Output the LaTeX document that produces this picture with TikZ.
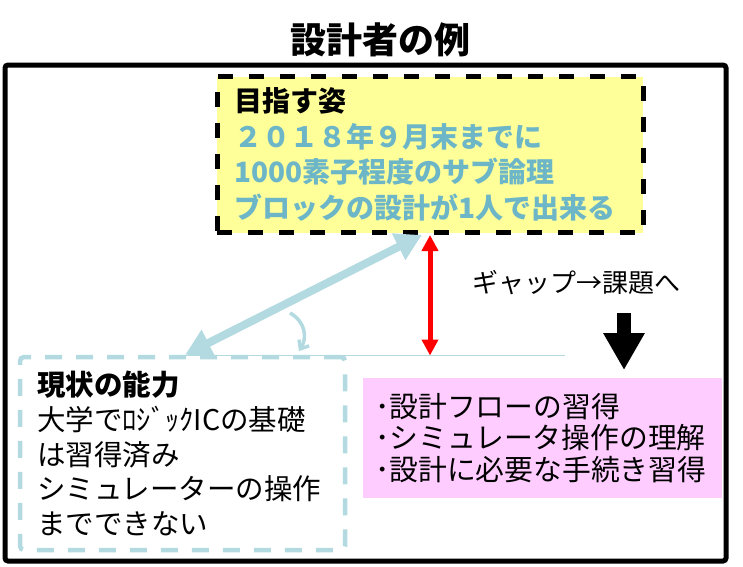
\documentclass[tikz,border=0pt]{standalone}
\usepackage{fontspec}
\newfontfamily\jp{Noto Sans CJK JP}
\usetikzlibrary{arrows.meta,calc}
\definecolor{goalyellow}{RGB}{255,255,153}
\definecolor{goalblue}{RGB}{108,182,200}
\definecolor{paleblue}{RGB}{178,218,224}
\definecolor{pinkfill}{RGB}{255,204,255}
\tikzset{
  frameline/.style={draw=black, line width=5pt, rounded corners=3pt},
  goalbox/.style={draw=black, fill=goalyellow, line width=5pt, dash pattern=on 15pt off 16pt,
    minimum width=426pt, minimum height=156pt, text width=392pt, inner xsep=17pt, align=left,
    font=\jp\fontsize{28}{35.4}\selectfont},
  nowbox/.style={draw=paleblue, line width=4.5pt, dash pattern=on 17pt off 14pt, rounded corners=4pt,
    minimum width=325pt, minimum height=193pt, text width=291pt, inner xsep=17pt, align=left,
    font=\jp\fontsize{28.5}{34.7}\selectfont},
  taskbox/.style={fill=pinkfill, minimum width=359pt, minimum height=120pt, text width=335pt,
    inner xsep=12pt, align=left, font=\jp\fontsize{28.8}{31.5}\selectfont},
  gaptext/.style={font=\jp\fontsize{26}{30}\selectfont},
  titletext/.style={font=\jp\bfseries\fontsize{36}{42}\selectfont},
  bluearrow/.style={draw=paleblue, line width=8pt, {Triangle[length=26pt,width=28pt]}-{Triangle[length=26pt,width=28pt]}},
  redarrow/.style={draw=red, line width=5pt, {Triangle[length=16pt,width=16pt]}-{Triangle[length=16pt,width=16pt]}},
  downarrow/.style={draw=black, line width=14pt, -{Triangle[length=37pt,width=39pt]}},
  anglearc/.style={draw=paleblue, line width=3.5pt, -{Straight Barb[length=7pt,width=12pt]}},
  gapline/.style={draw=paleblue, line width=1pt}
}
\begin{document}
\begin{tikzpicture}[x=1pt,y=-1pt]
\useasboundingbox (0,0) rectangle (743,566);
% outer frame
\node[frameline, minimum width=721pt, minimum height=496pt] (frame) at (365.5,313) {};
% title
\node[titletext] (title) at (380,40) {設計者の例};
% thin base line
\coordinate (lineL) at (185,355.5);
\coordinate (lineR) at (565,355.5);
\draw[gapline] (lineL) -- (lineR);
% current ability box
\node[nowbox] (now) at (182.5,453.5) {{\bfseries 現状の能力}\\大学でﾛｼﾞｯｸICの基礎\\は習得済み\\シミュレーターの操作\\までできない};
% goal box
\node[goalbox] (goal) at (430,154.5) {{\bfseries 目指す姿}\\{\color{goalblue}\bfseries ２０１８年９月末までに\\1000素子程度のサブ論理\\ブロックの設計が1人で出来る}};
% task box
\node[taskbox] (tasks) at (542.5,438) {･設計フローの習得\\･シミュレータ操作の理解\\･設計に必要な手続き習得};
% gap label
\node[gaptext] (gap) at (576,283) {ギャップ→課題へ};
% blue double arrow
\coordinate (gA) at ($(goal.south west)!0.481!(goal.south east)$);
\coordinate (nA) at ($(now.north west)!0.508!(now.north east)$);
\draw[bluearrow] (gA) -- (nA);
% angle arc
\coordinate (arcS) at (290,313);
\coordinate (arcE) at (299,351);
\draw[anglearc] (arcS) .. controls (306,322) and (307,338) .. (arcE);
% red gap arrow
\draw[redarrow] (goal.south) -- (goal.south |- lineR);
% black down arrow
\coordinate (dTop) at (624,313);
\coordinate (dTip) at (624,370);
\draw[downarrow] (dTop) -- (dTip);
\end{tikzpicture}
\end{document}
